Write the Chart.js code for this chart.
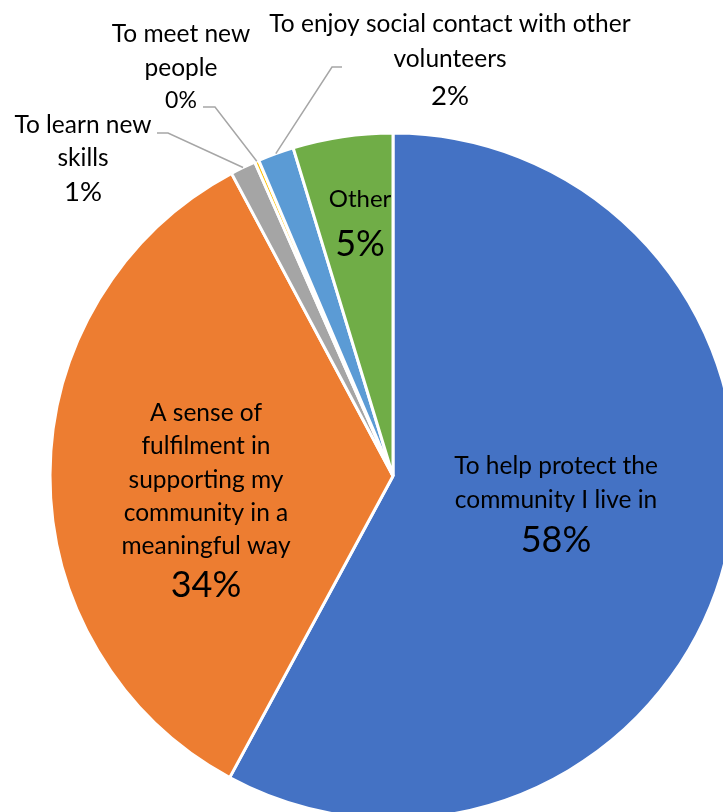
<!DOCTYPE html>
<html>
<head>
<meta charset="utf-8">
<script src="https://cdn.jsdelivr.net/npm/chart.js@4"></script>
<style>
  html, body { margin: 0; padding: 0; background: #fff; overflow: hidden; width: 723px; height: 812px; }
  #wrap { position: absolute; left: 0; top: 0; }
</style>
</head>
<body>
<div id="wrap"><canvas id="reasons" width="786" height="952"></canvas></div>
<script>
// reasons for volunteering, share of answers (%)
const reasonNames = [
  'To help protect the community I live in',
  'A sense of fulfilment in supporting my community in a meaningful way',
  'To learn new skills',
  'To meet new people',
  'To enjoy social contact with other volunteers',
  'Other'
];
const reasonShares = [57.9, 34.3, 1.2, 0.2, 1.7, 4.7];
const sliceColours = ['#4472C4', '#ED7D31', '#A5A5A5', '#FFC000', '#5B9BD5', '#70AD47'];

// how each label is wrapped, as Excel did it
const labelLines = [
  ['To help protect the', 'community I live in'],
  ['A sense of', 'fulfilment in', 'supporting my', 'community in a', 'meaningful way'],
  ['To learn new', 'skills'],
  ['To meet new', 'people'],
  ['To enjoy social contact with other', 'volunteers'],
  ['Other']
];

// label placement: inside labels are offset from the pie centre,
// outside labels sit at a fixed spot with an elbow leader line
const labelBoxes = [
  { inside: true, dx: 163, top: -10, step: 34, pctGap: 40, size: 24.5, pctSize: 36 },
  { inside: true, dx: -187, top: -63, step: 33.3, pctGap: 39, size: 24.5, pctSize: 36 },
  { inside: false, x: 83, top: 125, step: 33, pctGap: 34, size: 24.5, pctSize: 27.5 },
  { inside: false, x: 181, top: 34, step: 34, pctGap: 33, size: 24.5, pctSize: 23 },
  { inside: false, x: 450, top: 24, step: 35, pctGap: 37, size: 24.5, pctSize: 27.5 },
  { inside: true, dx: -33, top: -277, step: 34, pctGap: 45, size: 24, pctSize: 36 }
];
const leaderElbows = [null, null, [[157, 133], [168, 133]], [[203, 107], [215, 107]], [[342, 67], [332, 67]], null];

const fontFamily = 'Lato, "Open Sans", sans-serif';

const pieLabels = {
  id: 'pieLabels',
  afterDatasetsDraw(chart) {
    const ctx = chart.ctx;
    const arcs = chart.getDatasetMeta(0).data;
    ctx.save();
    ctx.fillStyle = '#000';
    ctx.textAlign = 'center';
    ctx.textBaseline = 'middle';
    arcs.forEach((arc, i) => {
      const p = arc.getProps(['x', 'y', 'startAngle', 'endAngle', 'outerRadius'], true);
      const box = labelBoxes[i];
      const lines = labelLines[i];
      const pct = Math.round(reasonShares[i]) + '%';
      let cx, y0;
      if (box.inside) {
        cx = p.x + box.dx;
        y0 = p.y + box.top;
      } else {
        cx = box.x;
        y0 = box.top;
        const elbow = leaderElbows[i];
        const mid = (p.startAngle + p.endAngle) / 2;
        const ex = p.x + Math.cos(mid) * p.outerRadius;
        const ey = p.y + Math.sin(mid) * p.outerRadius;
        ctx.strokeStyle = '#A6A6A6';
        ctx.lineWidth = 1.5;
        ctx.beginPath();
        ctx.moveTo(elbow[0][0], elbow[0][1]);
        ctx.lineTo(elbow[1][0], elbow[1][1]);
        ctx.lineTo(ex, ey);
        ctx.stroke();
      }
      ctx.font = box.size + 'px ' + fontFamily;
      lines.forEach((t, k) => ctx.fillText(t, cx, y0 + k * box.step));
      ctx.font = box.pctSize + 'px ' + fontFamily;
      ctx.fillText(pct, cx, y0 + (lines.length - 1) * box.step + box.pctGap);
    });
    ctx.restore();
  }
};

new Chart(document.getElementById('reasons').getContext('2d'), {
  type: 'pie',
  data: {
    labels: reasonNames,
    datasets: [{
      data: reasonShares,
      backgroundColor: sliceColours,
      borderColor: '#ffffff',
      borderWidth: 3
    }]
  },
  options: {
    responsive: false,
    animation: false,
    layout: { padding: { left: 48.5, right: 48.5, top: 131.5, bottom: 131.5 } },
    plugins: {
      legend: { display: false },
      tooltip: { enabled: false },
      title: { display: false }
    }
  },
  plugins: [pieLabels]
});
</script>
</body>
</html>
